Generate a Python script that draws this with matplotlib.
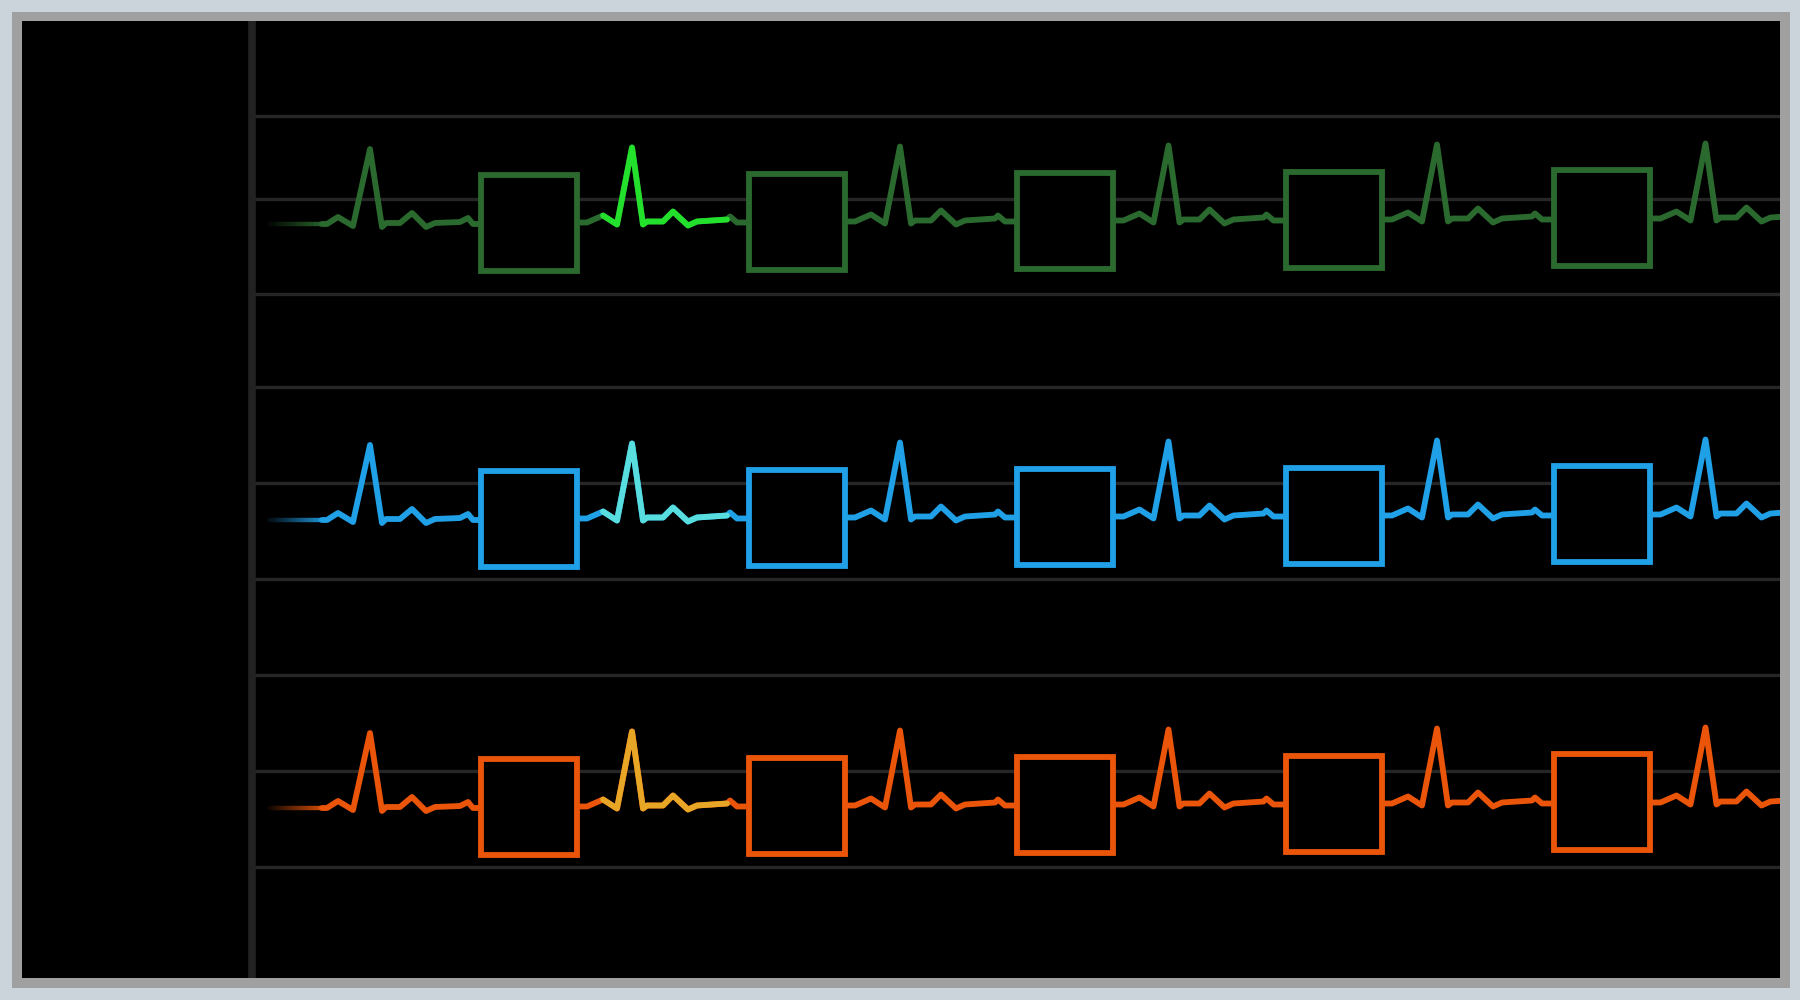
import numpy as np
import matplotlib
matplotlib.use('Agg')
import matplotlib.pyplot as plt
from matplotlib.patches import Rectangle
from matplotlib.collections import LineCollection
from matplotlib.colors import to_rgba

# ---- data (x in samples along the sweep, y in screen units, down positive) ----
trace_colors = ['#2b6a2e', '#20a0e6', '#ea550a']
highlight_colors = ['#22e02c', '#58dede', '#e8a626']
panel_baseline = [224, 520, 808]

# first (partial) heartbeat of the sweep: x positions and height above the baseline
first_beat_x = [322, 327, 338, 353, 370, 382, 386, 400, 412, 426, 435, 460, 468, 473, 478]
first_beat_dy = [0, 0, 7, -2, 75, -3, 1, 1, 11, -3, 1, 2, 6, 0, 0]

# following heartbeats: offset after a box's right edge, and height above the baseline
beat_dx = [0, 8, 24, 38, 53, 64, 68, 84, 94, 109, 118, 148, 151, 158, 167]
beat_dy = [0, 0, 7, -2, 75, -2, 1, 1, 11, -3, 1, 3, 6, 0, 0]

box_center_x = [528.5, 796.5, 1065, 1333.5, 1602]
box_size = 101
beat_drift = [1.5, 2.5, 3.5, 4.5, 5.5]
box_drift = [1, 2, 3, 4.5, 6]

trace_start = 322
fade_start = 268
grid_y = [116, 199, 294, 387, 483, 579, 675, 771, 867]
highlight_beat = 0
highlight_idx = (2, 11)

x_limits = (252, 1780)
y_limits = (978, 21)

LW = 4.2  # points

# ---- figure ----
fig = plt.figure(figsize=(18, 10), dpi=100, facecolor='#cbd3db')
fig.patches.append(Rectangle((12 / 1800, 12 / 1000), 1778 / 1800, 976 / 1000,
                             transform=fig.transFigure, facecolor='#a0a0a0',
                             edgecolor='none', zorder=-3))
fig.patches.append(Rectangle((22 / 1800, 22 / 1000), 1758 / 1800, 957 / 1000,
                             transform=fig.transFigure, facecolor='black',
                             edgecolor='none', zorder=-2))

ax = fig.add_axes([252 / 1800, 22 / 1000, 1528 / 1800, 957 / 1000])
ax.set_facecolor('black')
ax.set_xlim(*x_limits)
ax.set_ylim(*y_limits)
ax.set_yticks(grid_y)
ax.set_xticks([])
ax.tick_params(length=0, labelleft=False, labelbottom=False)
ax.grid(axis='y', color='#262626', linewidth=2.4)
ax.set_axisbelow(True)
for side in ['top', 'right', 'bottom']:
    ax.spines[side].set_visible(False)
ax.spines['left'].set_color('#222222')
ax.spines['left'].set_linewidth(5.5)
ax.spines['left'].set_capstyle('butt')

dx = np.array(beat_dx, dtype=float)
dy = np.array(beat_dy, dtype=float)
starts = [c + box_size / 2 for c in box_center_x]

for p in range(3):
    base = panel_baseline[p]
    col = trace_colors[p]
    xs = list(first_beat_x)
    ys = [base - v for v in first_beat_dy]
    hx = hy = None
    for i, s in enumerate(starts):
        bx = s + dx
        by = base - (dy + beat_drift[i])
        xs.extend(bx)
        ys.extend(by)
        if i == highlight_beat:
            a, b = highlight_idx
            hx, hy = bx[a:b + 1], by[a:b + 1]
    ax.plot(xs, ys, color=col, lw=LW, solid_joinstyle='round',
            solid_capstyle='round', zorder=2)
    ax.plot(hx, hy, color=highlight_colors[p], lw=LW, solid_joinstyle='round',
            solid_capstyle='round', zorder=3)

    # fading tail of the sweep
    n = 24
    fx = np.linspace(fade_start, trace_start, n + 1)
    segs = [[(fx[k], base), (fx[k + 1], base)] for k in range(n)]
    rgba = [to_rgba(col, 0.08 + 0.8 * k / (n - 1)) for k in range(n)]
    ax.add_collection(LineCollection(segs, colors=rgba, linewidths=3.2, zorder=2))

    # calibration boxes
    ax.plot(box_center_x, [base - d for d in box_drift], ls='none', marker='s',
            ms=68.5, mfc='black', mec=col, mew=LW, zorder=4)

fig.savefig('out.png', dpi=100, facecolor=fig.get_facecolor())
